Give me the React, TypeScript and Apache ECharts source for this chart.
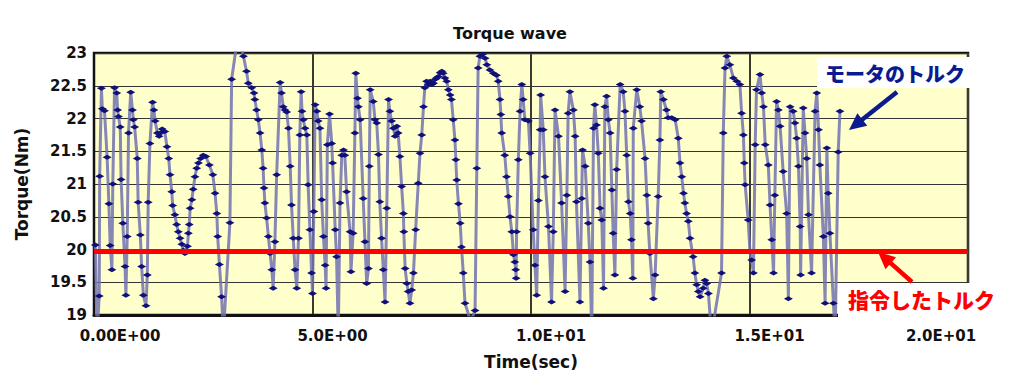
import React, { useEffect, useRef } from "react";
import * as echarts from "echarts";

const motorTime = [
  0.03, 0.07, 0.12, 0.13, 0.17, 0.19, 0.24, 0.30, 0.34, 0.37, 0.41, 0.43, 0.47, 0.52, 0.54, 0.56, 0.60, 0.62, 0.66, 0.71,
  0.73, 0.76, 0.79, 0.84, 0.88, 0.90, 0.93, 0.99, 1.01, 1.06, 1.09, 1.13, 1.19, 1.22, 1.24, 1.28, 1.34, 1.37, 1.40, 1.45,
  1.49, 1.52, 1.56, 1.62, 1.67, 1.71, 1.74, 1.78, 1.80, 1.85, 1.89, 1.93, 1.97, 2.01, 2.04, 2.08, 2.11, 2.14, 2.16, 2.18,
  2.20, 2.24, 2.27, 2.31, 2.35, 2.39, 2.44, 2.50, 2.56, 2.64, 2.72, 2.77, 2.81, 2.83, 2.87, 2.92, 2.96, 3.11, 3.15, 3.30,
  3.42, 3.49, 3.53, 3.61, 3.66, 3.68, 3.72, 3.76, 3.80, 3.84, 3.87, 3.89, 3.91, 3.95, 3.99, 4.03, 4.07, 4.10, 4.14, 4.18,
  4.26, 4.29, 4.33, 4.37, 4.41, 4.45, 4.49, 4.52, 4.56, 4.60, 4.64, 4.68, 4.71, 4.74, 4.76, 4.79, 4.83, 4.87, 4.90, 4.94,
  4.98, 5.00, 5.03, 5.06, 5.10, 5.13, 5.17, 5.21, 5.25, 5.29, 5.31, 5.34, 5.39, 5.44, 5.46, 5.52, 5.55, 5.59, 5.63, 5.67,
  5.71, 5.74, 5.78, 5.86, 5.88, 5.93, 5.97, 5.99, 6.03, 6.05, 6.09, 6.16, 6.20, 6.24, 6.28, 6.30, 6.32, 6.39, 6.43, 6.47,
  6.51, 6.54, 6.58, 6.62, 6.66, 6.70, 6.74, 6.77, 6.81, 6.85, 6.89, 6.93, 6.96, 7.00, 7.04, 7.08, 7.09, 7.12, 7.16, 7.19,
  7.23, 7.27, 7.31, 7.36, 7.42, 7.46, 7.50, 7.54, 7.57, 7.61, 7.65, 7.69, 7.73, 7.77, 7.81, 7.84, 7.88, 7.92, 7.96, 7.99,
  8.03, 8.07, 8.11, 8.15, 8.18, 8.22, 8.26, 8.28, 8.30, 8.34, 8.38, 8.41, 8.45, 8.49, 8.62, 8.72, 8.76, 8.79, 8.83, 8.89,
  8.95, 8.99, 9.06, 9.14, 9.21, 9.25, 9.29, 9.31, 9.33, 9.40, 9.44, 9.48, 9.52, 9.56, 9.60, 9.63, 9.65, 9.66, 9.67, 9.71,
  9.75, 9.79, 9.82, 9.86, 9.94, 9.98, 10.05, 10.09, 10.13, 10.17, 10.21, 10.22, 10.28, 10.32, 10.40, 10.47, 10.51, 10.55, 10.63, 10.70,
  10.78, 10.82, 10.85, 10.89, 10.97, 11.01, 11.04, 11.12, 11.16, 11.18, 11.24, 11.31, 11.35, 11.39, 11.43, 11.46, 11.50, 11.54, 11.58, 11.62,
  11.66, 11.69, 11.73, 11.77, 11.81, 11.85, 11.88, 11.92, 11.96, 12.04, 12.11, 12.15, 12.19, 12.23, 12.27, 12.30, 12.33, 12.34, 12.42, 12.49,
  12.53, 12.61, 12.65, 12.68, 12.72, 12.80, 12.84, 12.91, 12.95, 12.97, 13.03, 13.10, 13.14, 13.22, 13.30, 13.37, 13.41, 13.45, 13.49, 13.52,
  13.56, 13.60, 13.64, 13.71, 13.75, 13.79, 13.83, 13.87, 13.94, 13.98, 14.02, 14.06, 14.13, 14.36, 14.40, 14.44, 14.48, 14.55, 14.63, 14.71,
  14.78, 14.82, 14.86, 14.88, 14.90, 14.97, 15.01, 15.05, 15.09, 15.13, 15.16, 15.24, 15.28, 15.32, 15.36, 15.43, 15.47, 15.51, 15.55, 15.58,
  15.62, 15.66, 15.70, 15.77, 15.85, 15.89, 15.93, 16.00, 16.04, 16.08, 16.12, 16.16, 16.17, 16.23, 16.27, 16.31, 16.35, 16.42, 16.50, 16.54,
  16.58, 16.61, 16.69, 16.73, 16.77, 16.80, 16.84, 16.92, 16.96, 17.03, 17.07,
];

const motorTorque = [
  20.07, 18.7, 19.29, 21.12, 22.46, 22.15, 22.12, 21.41, 20.70, 20.06, 19.69, 21.00, 22.47, 22.39, 22.13, 22.03, 21.87, 21.07, 20.40, 19.74,
  19.30, 20.20, 21.78, 22.40, 22.13, 21.98, 21.87, 21.39, 20.72, 20.22, 19.74, 19.30, 19.14, 19.61, 20.72, 21.62, 22.25, 22.13, 21.96, 21.78,
  21.73, 21.78, 21.84, 21.80, 21.57, 21.39, 21.14, 20.88, 20.67, 20.53, 20.38, 20.27, 20.17, 20.08, 19.99, 19.94, 19.98, 20.05, 20.25, 20.38,
  20.63, 20.76, 20.92, 21.11, 21.24, 21.32, 21.39, 21.44, 21.42, 21.29, 21.14, 20.86, 20.55, 20.20, 19.77, 19.28, 18.7, 20.41, 22.60, 23.3,
  22.95, 22.72, 22.54, 22.47, 22.39, 22.29, 22.13, 21.98, 21.78, 21.52, 21.24, 20.94, 20.71, 20.48, 20.20, 19.94, 19.69, 19.41, 20.12, 21.14,
  22.55, 22.39, 22.18, 22.13, 22.10, 21.85, 21.27, 20.68, 20.17, 19.69, 19.41, 20.17, 21.75, 22.41, 22.11, 21.98, 21.85, 21.75, 20.99, 20.30,
  19.64, 19.33, 20.58, 22.21, 22.11, 21.96, 21.85, 20.76, 20.20, 19.76, 19.41, 21.60, 22.07, 21.62, 21.32, 20.30, 19.89, 18.7, 20.71, 21.44,
  21.52, 21.44, 20.88, 20.27, 19.66, 20.25, 21.78, 22.69, 22.31, 22.18, 21.98, 20.78, 20.12, 19.48, 19.71, 21.27, 22.44, 22.26, 21.98, 21.93,
  21.45, 20.73, 20.17, 19.69, 19.20, 20.63, 22.29, 22.11, 21.96, 21.85, 21.73, 21.88, 21.78, 21.42, 20.96, 20.55, 20.27, 19.71, 19.48, 19.36,
  19.18, 19.38, 19.64, 20.30, 21.01, 21.47, 21.75, 22.18, 22.47, 22.57, 22.52, 22.57, 22.52, 22.54, 22.60, 22.62, 22.64, 22.70, 22.72, 22.69,
  22.62, 22.57, 22.44, 22.36, 22.29, 21.98, 21.67, 21.37, 21.06, 20.70, 20.40, 20.04, 19.64, 19.18, 18.9, 19.07, 21.24, 22.77, 22.95, 22.98,
  22.92, 22.82, 22.74, 22.69, 22.66, 22.57, 22.29, 22.06, 21.78, 21.44, 21.11, 20.81, 20.50, 20.27, 19.92, 19.81, 19.69, 19.56, 20.27, 21.37,
  22.11, 22.52, 22.29, 21.98, 21.96, 21.47, 20.30, 19.76, 19.30, 20.75, 21.83, 22.36, 21.83, 21.11, 20.35, 19.20, 20.27, 22.13, 21.73, 20.71,
  19.36, 20.83, 22.08, 22.41, 22.13, 21.73, 20.73, 19.20, 20.78, 21.52, 21.27, 20.40, 19.81, 18.7, 21.85, 22.21, 21.90, 21.47, 20.63, 20.45,
  19.41, 22.18, 22.34, 21.98, 21.78, 20.91, 20.25, 19.61, 21.22, 22.52, 22.41, 22.11, 21.44, 20.73, 20.55, 20.15, 19.56, 21.85, 22.44, 22.18,
  21.96, 21.39, 20.83, 20.40, 19.94, 19.25, 19.61, 20.81, 21.67, 22.41, 22.29, 22.13, 22.01, 22.01, 21.98, 21.70, 21.32, 21.11, 20.86, 20.71,
  20.55, 20.43, 20.17, 19.89, 19.64, 19.46, 19.36, 19.28, 19.41, 19.53, 19.48, 19.33, 18.7, 19.64, 21.78, 22.77, 22.95, 22.82, 22.62, 22.57,
  22.52, 22.08, 21.75, 21.32, 20.99, 20.45, 19.96, 19.84, 19.64, 21.60, 22.44, 22.67, 22.39, 22.18, 21.60, 21.29, 20.68, 20.15, 19.64, 20.83,
  22.26, 22.13, 21.88, 21.19, 20.55, 19.25, 22.18, 22.11, 21.93, 21.70, 21.27, 20.35, 19.61, 22.16, 21.78, 21.39, 20.53, 19.64, 22.11, 22.39,
  21.83, 21.29, 20.20, 19.18, 21.55, 20.86, 20.25, 19.18, 18.7, 21.49, 22.11,
];

const commandTime = [0, 20];
const commandTorque = [19.97, 19.97];

const xTickValues = [0, 5, 10, 15, 20];
const xTickLabels = ["0.00E+00", "5.0E+00", "1.0E+01", "1.5E+01", "2.0E+01"];

const titleText = "Torque wave";
const xName = "Time(sec)";
const yName = "Torque(Nm)";
const motorLabel = "モータのトルク";
const commandLabel = "指令したトルク";

const FONT = "DejaVu Sans";
const CJK = "Noto Sans CJK JP";
const NAVY = "#0c1a8f";

function arrowHead(tipX: number, tipY: number, tailX: number, tailY: number, len: number, half: number) {
  const dx = tipX - tailX;
  const dy = tipY - tailY;
  const l = Math.sqrt(dx * dx + dy * dy);
  const ux = dx / l;
  const uy = dy / l;
  const bx = tipX - ux * len;
  const by = tipY - uy * len;
  const nx = -uy;
  const ny = ux;
  return {
    head: [
      [tipX, tipY],
      [bx + nx * half, by + ny * half],
      [bx - nx * half, by - ny * half],
    ],
    base: [bx + ux * 2, by + uy * 2],
  };
}

export default function App() {
  const ref = useRef<HTMLDivElement>(null);

  useEffect(() => {
    if (!ref.current) return;
    const chart = echarts.init(ref.current, undefined, { renderer: "svg" });

    const motorData = motorTime.map((t, i) => [t, motorTorque[i]]);
    const commandData = commandTime.map((t, i) => [t, commandTorque[i]]);

    const navyArrow = arrowHead(849, 130, 897, 92, 17, 8);
    const redArrow = arrowHead(878, 252, 912, 282, 17, 8);

    chart.setOption({
      animation: false,
      backgroundColor: "#ffffff",
      title: {
        text: titleText,
        left: 505,
        textAlign: "center",
        top: 20,
        textStyle: { fontFamily: FONT, fontSize: 16, fontWeight: "bold", color: "#111" },
      },
      grid: {
        left: 94,
        right: 56,
        top: 53,
        bottom: 73,
        show: true,
        backgroundColor: "#ffffcc",
        borderColor: "#111",
        borderWidth: 2.5,
        containLabel: false,
      },
      xAxis: {
        type: "value",
        min: 0,
        max: 20,
        interval: 5,
        name: xName,
        nameLocation: "middle",
        nameGap: 38,
        nameTextStyle: { fontFamily: FONT, fontSize: 17, fontWeight: "bold", color: "#111" },
        axisLine: { show: true, lineStyle: { color: "#111", width: 3 } },
        axisTick: { show: false },
        splitLine: { show: true, lineStyle: { color: "#3a3a30", width: 2 } },
        axisLabel: {
          margin: 13,
          showMinLabel: true,
          showMaxLabel: true,
          hideOverlap: false,
          formatter: (v: number) => {
            const i = xTickValues.indexOf(v);
            if (i < 0) return "";
            if (i === 0) return "{f|" + xTickLabels[i] + "}";
            if (i === xTickLabels.length - 1) return "{l|" + xTickLabels[i] + "}";
            return "{m|" + xTickLabels[i] + "}";
          },
          rich: {
            f: { fontFamily: FONT, fontSize: 15, fontWeight: "bold", color: "#111", padding: [0, 0, 0, 52] },
            m: { fontFamily: FONT, fontSize: 15, fontWeight: "bold", color: "#111", padding: [0, 0, 0, 40] },
            l: { fontFamily: FONT, fontSize: 15, fontWeight: "bold", color: "#111", padding: [0, 54, 0, 0] },
          },
        },
      },
      yAxis: {
        type: "value",
        min: 19,
        max: 23,
        interval: 0.5,
        name: yName,
        nameLocation: "middle",
        nameGap: 64,
        nameTextStyle: { fontFamily: FONT, fontSize: 17, fontWeight: "bold", color: "#111" },
        axisLine: { show: true, lineStyle: { color: "#111", width: 2 } },
        axisTick: { show: false },
        splitLine: { show: true, lineStyle: { color: "#333", width: 1.2 } },
        axisLabel: {
          margin: 7,
          fontFamily: FONT,
          fontSize: 15,
          fontWeight: "bold",
          color: "#111",
          showMinLabel: true,
          showMaxLabel: true,
        },
      },
      series: [
        {
          name: motorLabel,
          type: "line",
          data: motorData,
          clip: true,
          symbol: "diamond",
          symbolSize: [9, 5],
          itemStyle: { color: "#10107a" },
          lineStyle: { color: "#7272b2", width: 3, opacity: 0.85 },
          z: 3,
        },
        {
          name: commandLabel,
          type: "line",
          data: commandData,
          symbol: "none",
          lineStyle: { color: "#ff0000", width: 5 },
          z: 4,
        },
      ],
      graphic: [
        {
          type: "rect",
          z: 100,
          shape: { x: 817, y: 57, width: 153, height: 31 },
          style: { fill: "#ffffff" },
        },
        {
          type: "text",
          z: 101,
          x: 825,
          y: 73,
          style: {
            text: motorLabel,
            fill: NAVY,
            font: "900 20px '" + CJK + "'",
            verticalAlign: "middle",
            align: "left",
          },
        },
        {
          type: "line",
          z: 101,
          shape: { x1: 897, y1: 92, x2: navyArrow.base[0], y2: navyArrow.base[1] },
          style: { stroke: NAVY, lineWidth: 4.5 },
        },
        {
          type: "polygon",
          z: 101,
          shape: { points: navyArrow.head },
          style: { fill: NAVY },
        },
        {
          type: "rect",
          z: 100,
          shape: { x: 838, y: 283, width: 186, height: 34 },
          style: { fill: "#ffffff" },
        },
        {
          type: "text",
          z: 101,
          x: 848,
          y: 299,
          style: {
            text: commandLabel,
            fill: "#ff0000",
            font: "900 21px '" + CJK + "'",
            verticalAlign: "middle",
            align: "left",
          },
        },
        {
          type: "line",
          z: 101,
          shape: { x1: 912, y1: 282, x2: redArrow.base[0], y2: redArrow.base[1] },
          style: { stroke: "#ff0000", lineWidth: 4.5 },
        },
        {
          type: "polygon",
          z: 101,
          shape: { points: redArrow.head },
          style: { fill: "#ff0000" },
        },
      ],
    });

    return () => {
      chart.dispose();
    };
  }, []);

  return (
    <div
      ref={ref}
      style={{ position: "absolute", left: 0, top: 0, width: 1024, height: 388, background: "#fff" }}
    />
  );
}
